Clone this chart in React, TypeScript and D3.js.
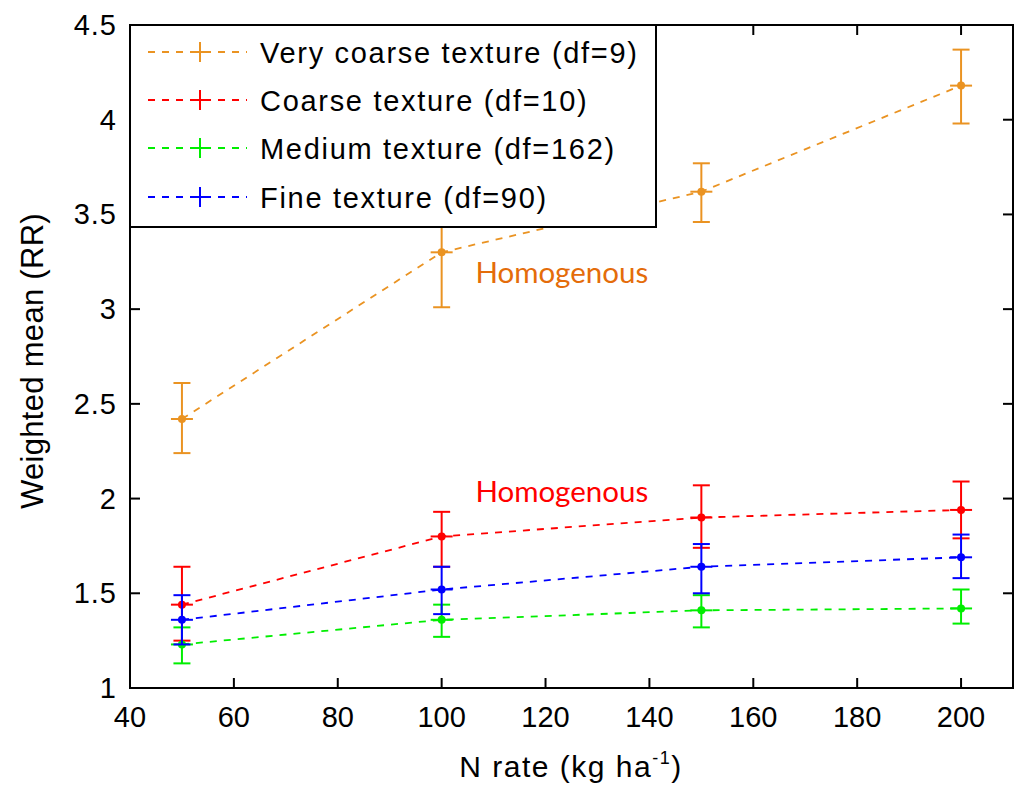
import React from "react";
import * as d3 from "d3";

const nRates = [50, 100, 150, 200];
const seriesNames = [
  "Very coarse texture (df=9)",
  "Coarse texture (df=10)",
  "Medium texture (df=162)",
  "Fine texture (df=90)",
];
const seriesColors = ["#EA9322", "#FF0000", "#00EE00", "#0000FF"];
const veryCoarseMean = [2.42, 3.30, 3.62, 4.18];
const veryCoarseLow = [2.24, 3.01, 3.46, 3.98];
const veryCoarseHigh = [2.61, 3.59, 3.77, 4.37];
const coarseMean = [1.44, 1.80, 1.90, 1.94];
const coarseLow = [1.25, 1.64, 1.74, 1.79];
const coarseHigh = [1.64, 1.93, 2.07, 2.09];
const mediumMean = [1.23, 1.36, 1.41, 1.42];
const mediumLow = [1.13, 1.27, 1.32, 1.34];
const mediumHigh = [1.32, 1.44, 1.49, 1.52];
const fineMean = [1.36, 1.52, 1.64, 1.69];
const fineLow = [1.23, 1.39, 1.50, 1.58];
const fineHigh = [1.49, 1.64, 1.76, 1.81];
const xTicks = [40, 60, 80, 100, 120, 140, 160, 180, 200];
const yTicks = [1, 1.5, 2, 2.5, 3, 3.5, 4, 4.5];
const annotations = [
  { text: "Homogenous", x: 106.5, y: 3.14, color: "#E46C0A" },
  { text: "Homogenous", x: 106.5, y: 1.98, color: "#FF0000" },
];

const series = [
  { mean: veryCoarseMean, low: veryCoarseLow, high: veryCoarseHigh },
  { mean: coarseMean, low: coarseLow, high: coarseHigh },
  { mean: mediumMean, low: mediumLow, high: mediumHigh },
  { mean: fineMean, low: fineLow, high: fineHigh },
].map((s, i) => ({ ...s, name: seriesNames[i], color: seriesColors[i] }));

export default function App() {
  const W = 1021, H = 787;
  const L = 130, R = 1013, T = 25, B = 688;
  const x = d3.scaleLinear().domain([40, 210]).range([L, R]);
  const y = d3.scaleLinear().domain([1, 4.5]).range([B, T]);
  const line = d3
    .line<number>()
    .x((_, i) => x(nRates[i]))
    .y((d) => y(d));
  const font = "'Liberation Sans', Arial, sans-serif";
  const tickLen = 10;
  const cap = 8.5;
  const mid = 11;
  const legendRows = [52, 100, 148, 197];

  return (
    <svg
      width={W}
      height={H}
      style={{ position: "absolute", left: 0, top: 0, background: "#fff" }}
      fontFamily={font}
    >
      <rect x={0} y={0} width={W} height={H} fill="#fff" />
      {series.map((s, si) => (
        <g key={si}>
          <path
            d={line(s.mean) || ""}
            fill="none"
            stroke={s.color}
            strokeWidth={1.8}
            strokeDasharray="7,7"
          />
          {nRates.map((n, i) => (
            <g key={i} stroke={s.color} strokeWidth={2}>
              <line x1={x(n)} x2={x(n)} y1={y(s.low[i])} y2={y(s.high[i])} />
              <line x1={x(n) - cap} x2={x(n) + cap} y1={y(s.low[i])} y2={y(s.low[i])} />
              <line x1={x(n) - cap} x2={x(n) + cap} y1={y(s.high[i])} y2={y(s.high[i])} />
              <line x1={x(n) - mid} x2={x(n) + mid} y1={y(s.mean[i])} y2={y(s.mean[i])} />
              <circle cx={x(n)} cy={y(s.mean[i])} r={4} fill={s.color} stroke="none" />
            </g>
          ))}
        </g>
      ))}
      {annotations.map((a, i) => (
        <text
          key={i}
          x={x(a.x)}
          y={y(a.y)}
          fill={a.color}
          fontFamily="Lato, 'Open Sans', sans-serif"
          fontSize={29.5}
        >
          {a.text}
        </text>
      ))}
      <rect x={L} y={T} width={R - L} height={B - T} fill="none" stroke="#000" strokeWidth={2} />
      {xTicks.map((t) => (
        <g key={t}>
          <line x1={x(t)} x2={x(t)} y1={B} y2={B - tickLen} stroke="#000" strokeWidth={2} />
          <line x1={x(t)} x2={x(t)} y1={T} y2={T + tickLen} stroke="#000" strokeWidth={2} />
          <text x={x(t)} y={727} textAnchor="middle" fontSize={29} fill="#000">
            {t}
          </text>
        </g>
      ))}
      {yTicks.map((t) => (
        <g key={t}>
          <line x1={L} x2={L + tickLen} y1={y(t)} y2={y(t)} stroke="#000" strokeWidth={2} />
          <line x1={R} x2={R - tickLen} y1={y(t)} y2={y(t)} stroke="#000" strokeWidth={2} />
          <text x={117} y={y(t) + 10} textAnchor="end" fontSize={29} letterSpacing={1} fill="#000">
            {d3.format("")(t)}
          </text>
        </g>
      ))}
      <text x={571} y={777} textAnchor="middle" fontSize={30} letterSpacing={1.5} fill="#000">
        N rate (kg ha
        <tspan fontSize={18} dy={-13}>-1</tspan>
        <tspan dy={13}>)</tspan>
      </text>
      <text
        transform={`translate(43,${361}) rotate(-90)`}
        textAnchor="middle"
        fontSize={31}
        letterSpacing={0.3}
        fill="#000"
      >
        Weighted mean (RR)
      </text>
      <rect x={L} y={T} width={656 - L} height={227 - T} fill="#fff" stroke="#000" strokeWidth={2} />
      {series.map((s, i) => (
        <g key={i}>
          <line
            x1={148}
            x2={247}
            y1={legendRows[i]}
            y2={legendRows[i]}
            stroke={s.color}
            strokeWidth={1.8}
            strokeDasharray="7,7"
          />
          <line x1={190} x2={210} y1={legendRows[i]} y2={legendRows[i]} stroke={s.color} strokeWidth={2} />
          <line x1={200} x2={200} y1={legendRows[i] - 10} y2={legendRows[i] + 10} stroke={s.color} strokeWidth={2} />
          <text x={260} y={legendRows[i] + 11} fontSize={29} letterSpacing={1.7} fill="#000">
            {s.name}
          </text>
        </g>
      ))}
    </svg>
  );
}
